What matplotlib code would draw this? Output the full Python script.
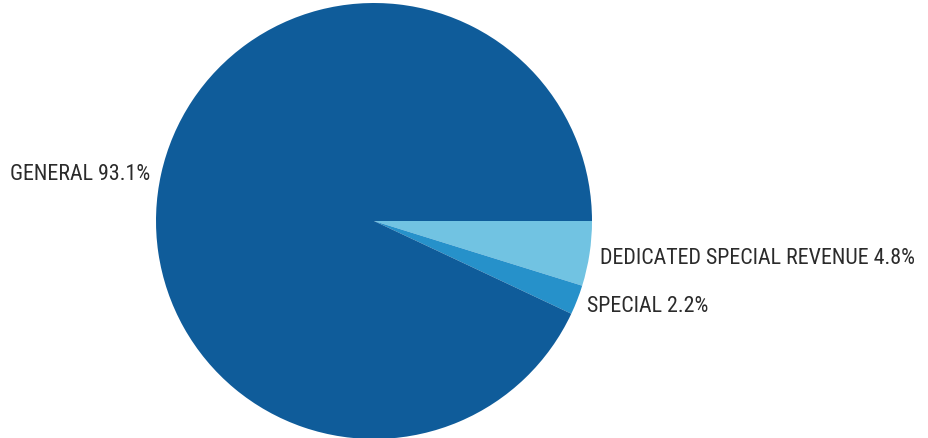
import matplotlib.pyplot as plt
from matplotlib.transforms import offset_copy

labels = ['DEDICATED SPECIAL REVENUE 4.8%', 'SPECIAL 2.2%', 'GENERAL 93.1%']
shares = [4.8, 2.2, 93.1]
colors = ['#71c3e2', '#2691ca', '#0f5c9a']

plt.rcParams['font.family'] = ['Roboto Condensed', 'DejaVu Sans']

fig = plt.figure(figsize=(9.29, 4.39), dpi=100)
ax = fig.add_axes([156 / 929, -1 / 439, 436 / 929, 436 / 439])

wedges, texts = ax.pie(shares, labels=labels, colors=colors, startangle=0,
                       counterclock=False, labeldistance=1.05,
                       wedgeprops=dict(linewidth=0),
                       textprops=dict(fontsize=15.8, color='#2b2b2b'))
# nudge the labels down a couple of pixels
for t in texts:
    t.set_transform(offset_copy(ax.transData, fig=fig, x=0, y=-2, units='dots'))

ax.set_xlim(-1, 1)
ax.set_ylim(-1, 1)
ax.set_aspect('equal')

fig.savefig('out.png', dpi=100)
